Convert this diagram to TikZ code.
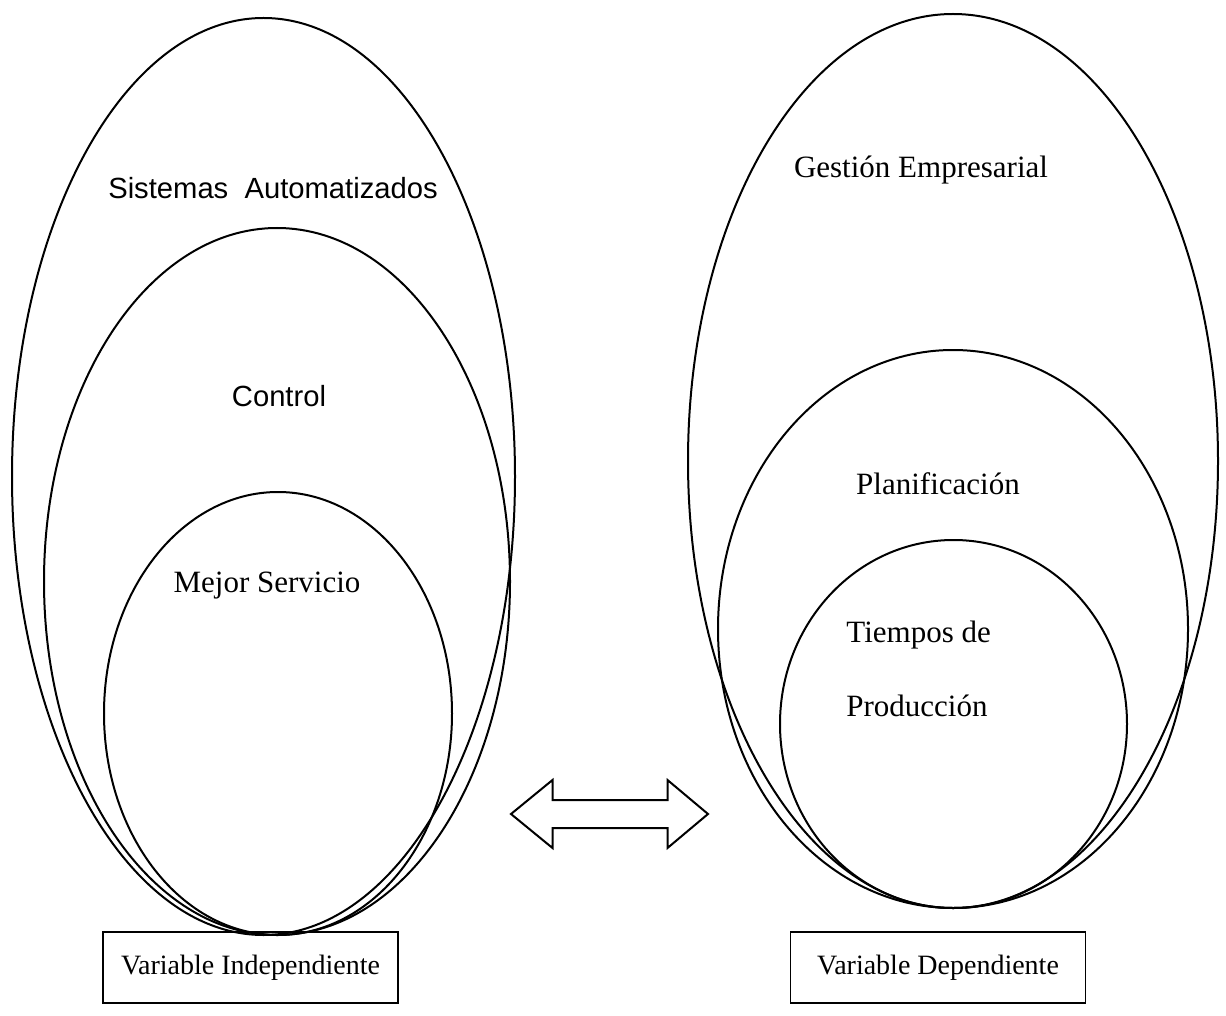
\documentclass[tikz,border=0pt]{standalone}
\usepackage{fontspec}
\setmainfont{Liberation Serif}
\setsansfont{Liberation Sans}
\usetikzlibrary{shapes.geometric}

\tikzstyle{oval}=[ellipse,draw,line width=1pt,inner sep=0pt]
\tikzstyle{ovaltext}=[font=\fontsize{15.5}{18}\selectfont,inner sep=0pt]
\tikzstyle{sanstext}=[font=\sffamily\fontsize{14.6}{17}\selectfont,inner sep=0pt]
\tikzstyle{varbox}=[draw,line width=0.7pt,minimum width=147.5pt,minimum height=35.5pt,inner sep=0pt,font=\fontsize{14}{17}\selectfont]

\begin{document}
\begin{tikzpicture}[x=0.5pt,y=-0.5pt]
     \useasboundingbox (0,0) rectangle (1226,1016);
     % Nested ovals, independent variable first
     \foreach \pos/\w/\h/\name in {{(263.5,476.5)/251.5pt/458.5pt/sa},
       {(277,581.5)/233pt/353.5pt/ctrl}, {(278,713.5)/174pt/221.5pt/ms}}
     \node[oval,minimum width=\w,minimum height=\h] (\name) at \pos {};

     \foreach \pos/\w/\h/\name in {{(953,461)/265pt/447pt/ge},
       {(953,629)/235pt/279pt/pl}, {(953.5,724)/173.5pt/184pt/tp}}
     \node[oval,minimum width=\w,minimum height=\h] (\name) at \pos {};

     % Labels inside the ovals
     \node[sanstext] (sistemas) at (273,188) {Sistemas\ \ Automatizados};
     \node[sanstext] (control) at (279,396) {Control};
     \node[ovaltext] (mejor) at (267,586) {Mejor Servicio};
     \node[ovaltext] (gestion) at (921,170) {Gestión Empresarial};
     \node[ovaltext] (planif) at (938,484) {Planificación};
     \node[ovaltext,anchor=west] (tiempos) at (846,635) {Tiempos de};
     \node[ovaltext,anchor=west] (produccion) at (846,706) {Producción};

     % Two-way block arrow
     \draw[line width=1pt,shift={(609.5,814)}] (-98.5,0) -- (-57,-34) -- (-57,-14)
       -- (58,-14) -- (58,-34) -- (98.5,0) -- (58,34) -- (58,14)
       -- (-57,14) -- (-57,34) -- cycle;

     % Variable boxes
     \node[varbox] (indep) at (250.5,967.5) {Variable Independiente};
     \node[varbox] (dep) at (938,967.5) {Variable Dependiente};
\end{tikzpicture}
\end{document}
